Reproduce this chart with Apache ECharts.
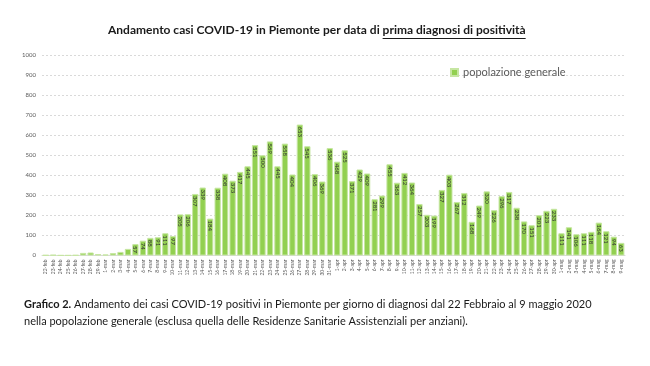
<!DOCTYPE html>
<html>
<head>
<meta charset="utf-8">
<script src="https://cdn.jsdelivr.net/npm/echarts@6/dist/echarts.min.js"></script>
<style>
html,body{margin:0;padding:0;background:#fff;}
#chart{width:650px;height:366px;}
</style>
</head>
<body>
<div id="chart"></div>
<script>
var categories = [
  "22-feb","23-feb","24-feb","25-feb","26-feb","27-feb","28-feb","29-feb",
  "1-mar","2-mar","3-mar","4-mar","5-mar","6-mar","7-mar","8-mar","9-mar","10-mar",
  "11-mar","12-mar","13-mar","14-mar","15-mar","16-mar","17-mar","18-mar","19-mar","20-mar",
  "21-mar","22-mar","23-mar","24-mar","25-mar","26-mar","27-mar","28-mar","29-mar","30-mar","31-mar",
  "1-apr","2-apr","3-apr","4-apr","5-apr","6-apr","7-apr","8-apr","9-apr","10-apr",
  "11-apr","12-apr","13-apr","14-apr","15-apr","16-apr","17-apr","18-apr","19-apr","20-apr",
  "21-apr","22-apr","23-apr","24-apr","25-apr","26-apr","27-apr","28-apr","29-apr","30-apr",
  "1-mag","2-mag","3-mag","4-mag","5-mag","6-mag","7-mag","8-mag","9-mag"
];
var popolazioneGenerale = [
  2,3,1,1,2,13,15,7,
  5,12,18,33,57,74,88,91,111,97,
  205,206,307,339,184,338,408,373,417,445,
  551,500,569,445,558,404,653,545,406,369,536,
  468,525,371,429,409,281,299,455,363,412,
  364,257,203,199,327,403,267,312,168,249,
  320,226,296,317,238,170,151,201,223,233,
  111,141,106,111,118,164,121,94,63
];
var labelMin = 50;

var FONT = 'Lato, "Noto Sans", sans-serif';
var titleA = 'Andamento casi COVID-19 in Piemonte per data di ';
var titleB = 'prima diagnosi di positività';
var titleSize = 12;

var ctx = document.createElement('canvas').getContext('2d');
ctx.font = 'bold ' + titleSize + 'px ' + FONT;
var wA = ctx.measureText(titleA).width;
var wB = ctx.measureText(titleB).width;
var titleLeft = Math.round(317 - (wA + wB) / 2);

var chart = echarts.init(document.getElementById('chart'), null, {renderer: 'canvas'});
chart.setOption({
  backgroundColor: '#ffffff',
  animation: false,
  textStyle: {fontFamily: FONT},
  grid: {left: 42, right: 25, top: 55, bottom: 110.5, containLabel: false},
  legend: {
    data: ['popolazione generale'],
    left: 445, top: 62,
    itemWidth: 7, itemHeight: 7, itemGap: 4,
    icon: 'rect',
    textStyle: {fontSize: 11, color: '#595959', fontFamily: FONT}
  },
  xAxis: {
    type: 'category',
    data: categories,
    axisLine: {show: true, lineStyle: {color: '#d9d9d9', width: 1}},
    axisTick: {show: false},
    axisLabel: {rotate: 90, interval: 0, fontSize: 5, color: '#595959', margin: 4}
  },
  yAxis: {
    type: 'value',
    min: 0, max: 1000, interval: 100,
    axisLine: {show: false},
    axisTick: {show: false},
    splitLine: {show: true, lineStyle: {color: '#d9d9d9', type: [2, 2], width: 1}},
    axisLabel: {fontSize: 6, color: '#595959', margin: 6, formatter: function (v) { return String(v); }}
  },
  series: [{
    name: 'popolazione generale',
    type: 'bar',
    data: popolazioneGenerale,
    barCategoryGap: '16%',
    itemStyle: {color: '#92d050', borderColor: '#c6e6a2', borderWidth: 1},
    label: {
      show: true,
      position: 'insideTop',
      rotate: -90,
      align: 'left',
      verticalAlign: 'middle',
      distance: 2,
      fontSize: 6,
      color: '#333333',
      formatter: function (p) { return p.value >= labelMin ? String(p.value) : ''; }
    }
  }],
  graphic: [
    {type: 'text', left: titleLeft, top: 24,
     style: {text: titleA, font: 'bold ' + titleSize + 'px ' + FONT, fill: '#1a1a1a'}},
    {type: 'text', left: titleLeft + wA, top: 24,
     style: {text: titleB, font: 'bold ' + titleSize + 'px ' + FONT, fill: '#1a1a1a'}},
    {type: 'line', shape: {x1: titleLeft + wA, y1: 38.5, x2: titleLeft + wA + wB, y2: 38.5},
     style: {stroke: '#1a1a1a', lineWidth: 1}},
    {type: 'text', left: 24, top: 296,
     style: {
       text: '{b|Grafico 2.} Andamento dei casi COVID-19 positivi in Piemonte per giorno di diagnosi dal 22 Febbraio al 9 maggio 2020\nnella popolazione generale (esclusa quella delle Residenze Sanitarie Assistenziali per anziani).',
       font: '11px ' + FONT, fill: '#1a1a1a', lineHeight: 17,
       rich: {b: {fontWeight: 'bold', fontSize: 11, fill: '#1a1a1a', fontFamily: FONT}}
     }}
  ]
});
</script>
</body>
</html>
